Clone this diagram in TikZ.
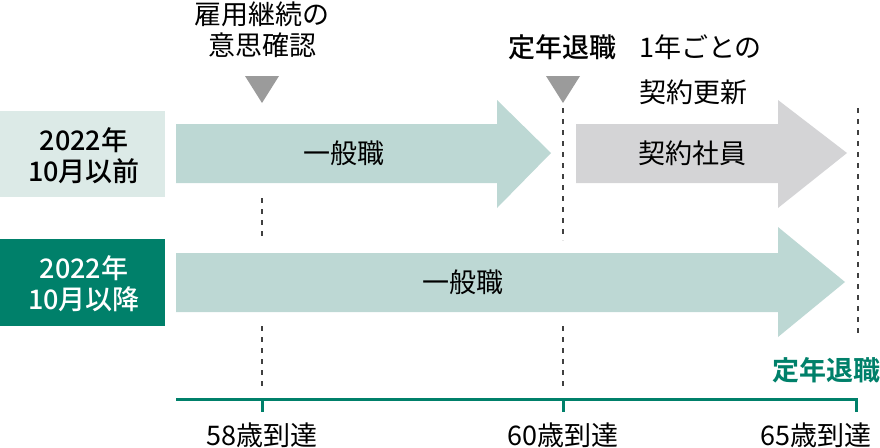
\documentclass[tikz,border=0pt]{standalone}
\usepackage{fontspec}
\setmainfont{Noto Sans CJK JP}[BoldFont={Noto Sans CJK JP Medium}]
\newfontfamily\heavyfont{Noto Sans CJK JP Bold}
\definecolor{kgreen}{HTML}{00806A}
\definecolor{kpale}{HTML}{DCEAE7}
\definecolor{kteal}{HTML}{BDD8D4}
\definecolor{kgray}{HTML}{D4D4D6}
\definecolor{ktri}{HTML}{9B9B9B}
\begin{document}
\begin{tikzpicture}[x=1pt,y=-1pt,
 txt/.style={font=\fontsize{27}{31}\selectfont,inner sep=0pt,align=center},
 btxt/.style={txt,font=\fontsize{27}{31}\selectfont\bfseries},
 vdash/.style={draw=black!75,line width=1.2pt,dash pattern=on 5pt off 6pt},
 mark58/.pic={\fill[ktri] (-17,0)--(17,0)--(0,27)--cycle;},
 bigarrow/.style={fill=#1}]
 \useasboundingbox (0,0) rectangle (880,447);
 % row labels
 \fill[kpale] (0,111) rectangle (165,197);
 \fill[kgreen] (0,239) rectangle (165,326);
 \node[btxt] (before) at (84,156) {2022年\\10月以前};
 \node[btxt,text=white] (after) at (84,284) {2022年\\10月以降};
 % arrows
 \path[bigarrow=kteal] (176,124)--(497,124)--(497,100)--(551,153)--(497,208)--(497,183)--(176,183)--cycle;
 \path[bigarrow=kgray] (576,124)--(778,124)--(778,100)--(847,153)--(778,208)--(778,183)--(576,183)--cycle;
 \path[bigarrow=kteal] (176,253)--(778,253)--(778,227)--(845,282)--(778,337)--(778,312)--(176,312)--cycle;
 \node[txt] (job1) at (344,153) {一般職};
 \node[txt] (contract) at (692,153) {契約社員};
 \node[txt] (job2) at (463,282) {一般職};
 % markers
 \path (262,76) pic{mark58} (563,76) pic{mark58};
 \node[txt] (confirm) at (262,30) {雇用継続の\\意思確認};
 \node[btxt] (retire) at (562,47) {定年退職};
 \node[txt,anchor=west] (renew1) at (639,47) {1年ごとの};
 \node[txt,anchor=west] (renew2) at (639,92) {契約更新};
 % dashed guides
 \coordinate (a1) at (262,198); \coordinate (a2) at (262,240);
 \coordinate (a3) at (262,326); \coordinate (a4) at (262,386);
 \coordinate (b1) at (563,108); \coordinate (b2) at (563,240);
 \coordinate (b3) at (563,326); \coordinate (b4) at (563,386);
 \coordinate (c1) at (858,108); \coordinate (c2) at (858,338);
 \draw[vdash] (a1)--(a2) (a3)--(a4) (b1)--(b2) (b3)--(b4) (c1)--(c2);
 % timeline
 \coordinate (t0) at (176,399);
 \coordinate (t58) at (262,399);
 \coordinate (t60) at (563,399);
 \coordinate (t65) at (858,399);
 \draw[kgreen,line width=3pt] (t0)--(t65)
  (t58)--+(0,13) (t60)--+(0,13) ([xshift=-1.5pt]t65)--+(0,13);
 \node[txt] (age58) at (262,435) {58歳到達};
 \node[txt] (age60) at (563,435) {60歳到達};
 \node[txt] (age65) at (816,435) {65歳到達};
 \node[txt,font=\fontsize{27}{31}\heavyfont,text=kgreen] (end) at (826,370) {定年退職};
\end{tikzpicture}
\end{document}
